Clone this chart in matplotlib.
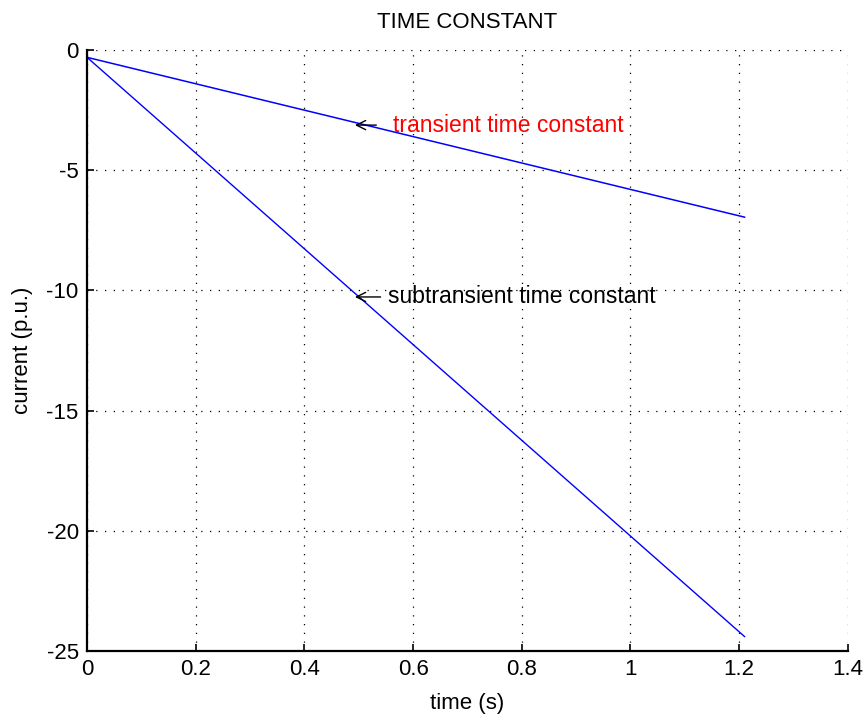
import matplotlib.pyplot as plt

plt.rcParams["font.family"] = ["Liberation Sans", "DejaVu Sans"]
plt.rcParams["axes.unicode_minus"] = False

# data
time_s = [0.0, 1.21]
transient = [-0.3, -6.95]
subtransient = [-0.3, -24.4]

x_ticks = [0, 0.2, 0.4, 0.6, 0.8, 1.0, 1.2, 1.4]
x_tick_labels = ["0", "0.2", "0.4", "0.6", "0.8", "1", "1.2", "1.4"]
y_ticks = [0, -5, -10, -15, -20, -25]
y_tick_labels = ["0", "-5", "-10", "-15", "-20", "-25"]

fig = plt.figure(figsize=(8.66, 7.16), dpi=100)
ax = fig.add_axes([0.1005, 0.0908, 0.8785, 0.8392])

ax.plot(time_s, transient, color="#0000ff", lw=1.1)
ax.plot(time_s, subtransient, color="#0000ff", lw=1.0)

ax.set_xlim(0, 1.4)
ax.set_ylim(-25, 0)
ax.set_xticks(x_ticks)
ax.set_xticklabels(x_tick_labels)
ax.set_yticks(y_ticks)
ax.set_yticklabels(y_tick_labels)

ax.grid(True, color="black", linestyle=(0, (1, 6)), linewidth=0.9)
for side in ["top", "right"]:
    ax.spines[side].set_visible(False)
for side in ["left", "bottom"]:
    ax.spines[side].set_linewidth(1.6)
ax.tick_params(direction="in", length=5, width=1.2, labelsize=16, pad=6)

ax.set_title("TIME CONSTANT", fontsize=16, pad=16)
ax.set_xlabel("time (s)", fontsize=16, labelpad=9)
ax.set_ylabel("current (p.u.)", fontsize=16, labelpad=10)

ax.annotate("transient time constant", xy=(0.493, -3.12), xytext=(0.563, -3.12),
            color="red", fontsize=16.5, va="center", ha="left",
            arrowprops=dict(arrowstyle="->", color="black", lw=1.0,
                            shrinkA=10, shrinkB=0))
ax.annotate("subtransient time constant", xy=(0.493, -10.27), xytext=(0.553, -10.27),
            color="black", fontsize=16.5, va="center", ha="left",
            arrowprops=dict(arrowstyle="->", color="black", lw=1.0,
                            shrinkA=3, shrinkB=0))

fig.savefig("out.png", dpi=100, facecolor="white")
